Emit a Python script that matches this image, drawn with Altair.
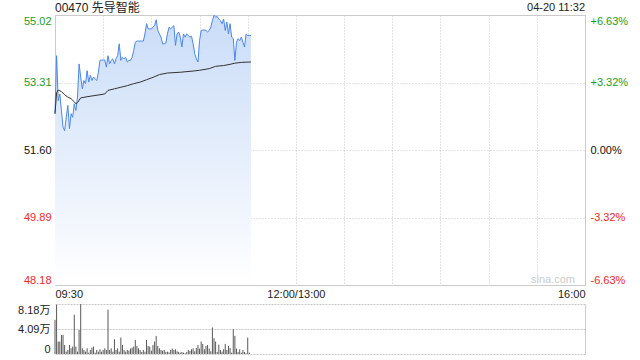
import altair as alt
import pandas as pd

title_text = "00470 先导智能"
stamp_text = "04-20 11:32"
watermark = "sina.com"

prev_close = 51.60
price_ticks = [48.18, 49.89, 51.60, 53.31, 55.02]
pct_labels = ["-6.63%", "-3.32%", "0.00%", "+3.32%", "+6.63%"]
time_ticks = [0, 30, 60, 90, 120, 150, 180, 210, 240, 270, 300, 330]
time_labels = {0: "09:30", 150: "12:00/13:00", 330: "16:00"}
vol_ticks = [0, 4.09, 8.18]
vol_labels = ["0", "4.09万", "8.18万"]

price = [
    52.52, 53.99, 52.85, 53.02, 52.60, 52.18, 52.09, 52.43, 52.73, 52.14,
    52.52, 52.43, 52.77, 52.60, 52.94, 53.78, 53.45, 53.15, 53.36, 53.28,
    53.61, 53.32, 53.49, 53.36, 53.45, 53.40, 53.36, 53.57, 53.87, 53.88,
    53.88, 53.88, 53.70, 53.99, 53.78, 53.87, 53.91, 53.78, 53.91, 53.99,
    54.29, 53.87, 53.95, 53.91, 53.95, 53.83, 53.87, 53.87, 53.95, 54.12,
    54.33, 54.36, 54.36, 54.36, 54.36, 54.36, 54.54, 54.80, 54.67, 54.67,
    54.67, 54.71, 54.75, 54.90, 54.63, 54.54, 54.46, 54.29, 54.29, 54.31,
    54.54, 54.71, 54.67, 54.71, 54.75, 54.25, 54.54, 54.59, 54.46, 54.21,
    54.54, 54.46, 54.54, 54.50, 54.46, 54.48, 54.29, 54.04, 53.91, 53.83,
    54.37, 54.63, 54.64, 54.64, 54.63, 54.59, 54.63, 54.71, 54.88, 55.01,
    54.97, 54.98, 54.92, 54.88, 54.80, 54.92, 54.63, 54.84, 54.54, 54.80,
    54.46, 54.42, 53.87, 54.33, 54.42, 54.37, 54.46, 54.33, 54.21, 54.54,
    54.50, 54.50, 54.50,
]

avg_minute = [0, 1, 2, 4, 6, 8, 10, 12, 13, 14, 16, 20, 28, 31, 33, 37, 41, 45,
              49, 53, 57, 61, 65, 70, 78, 86, 90, 96, 100, 105, 109, 112, 116, 122]
avg_price = [52.52, 53.05, 53.12, 53.08, 53.00, 52.94, 52.90, 52.82, 52.77, 52.80,
             52.92, 52.95, 53.00, 53.02, 53.11, 53.15, 53.19, 53.23, 53.28, 53.32,
             53.38, 53.44, 53.51, 53.55, 53.57, 53.60, 53.62, 53.66, 53.72, 53.74,
             53.77, 53.80, 53.82, 53.83]

volume = [  # 万股
    5.60, 8.07, 2.03, 2.03, 3.13, 3.13, 1.48, 0.38, 0.66, 1.48,
    0.93, 1.21, 6.42, 1.21, 0.38, 3.95, 8.18, 0.93, 0.66, 0.38,
    0.93, 0.22, 0.66, 1.04, 1.21, 0.22, 0.66, 0.38, 0.77, 0.38,
    0.66, 0.93, 0.66, 7.25, 0.66, 0.93, 0.38, 2.42, 0.66, 0.93,
    0.38, 2.69, 1.48, 0.66, 0.38, 0.66, 0.55, 0.88, 1.04, 1.21,
    2.31, 1.32, 0.93, 0.66, 0.33, 0.66, 0.38, 2.31, 1.32, 1.21,
    0.55, 1.48, 2.03, 2.96, 1.32, 0.93, 0.66, 0.55, 0.66, 0.33,
    0.38, 0.27, 0.66, 0.88, 0.66, 0.77, 0.44, 0.33, 0.22, 0.33,
    0.22, 0.11, 0.33, 0.66, 0.49, 0.77, 0.93, 0.44, 0.99, 1.48,
    0.88, 2.03, 1.65, 0.77, 1.32, 1.48, 0.88, 0.44, 4.34, 2.58,
    2.03, 0.33, 1.54, 0.66, 0.38, 0.77, 1.65, 0.66, 1.32, 0.99,
    0.22, 4.06, 2.96, 0.88, 0.33, 0.77, 0.22, 0.66, 0.33, 0.11,
    2.69, 0.22,
]

FONT = "Arial, Liberation Sans, Noto Sans CJK SC, sans-serif"
GREEN = "#1a9e1a"
RED = "#f02828"
GRID = "#c8c8c8"
BORDER = "#cccccc"
LINE = "#4a87ea"

price_df = pd.DataFrame({"minute": list(range(len(price))), "price": price})
avg_df = pd.DataFrame({"minute": avg_minute, "avg": avg_price})
vol_df = pd.DataFrame({"minute": list(range(len(volume))), "vol": volume})

color_expr = (f"datum.value > {prev_close + 0.001} ? '{GREEN}' : "
              f"datum.value < {prev_close - 0.001} ? '{RED}' : '#111111'")
pct_expr = " : ".join(
    f"abs(datum.value - {v}) < 0.005 ? '{l}'" for v, l in zip(price_ticks, pct_labels)
) + " : ''"
time_expr = " : ".join(f"datum.value == {k} ? '{v}'" for k, v in time_labels.items()) + " : ''"
vol_expr = " : ".join(
    f"abs(datum.value - {v}) < 0.005 ? '{l}'" for v, l in zip(vol_ticks, vol_labels)
) + " : ''"

x_scale = alt.Scale(domain=[time_ticks[0], time_ticks[-1]], nice=False)
y_scale = alt.Scale(domain=[price_ticks[0], price_ticks[-1]], nice=False, zero=False)

x_axis = alt.Axis(values=time_ticks, labelExpr=time_expr, grid=True, gridDash=[1, 2],
                  gridColor=GRID, ticks=False, domain=False, labelFlush=True,
                  labelPadding=3, labelFontSize=11, labelColor="#222222", title=None,
                  labelFont=FONT, minExtent=14, maxExtent=14)
y_left = alt.Axis(values=price_ticks, format=".2f", orient="left", grid=True,
                  gridDash=[1, 2], gridColor=GRID, ticks=False, domain=False,
                  labelFlush=True, labelPadding=4, labelFontSize=11, labelFont=FONT,
                  labelColor={"expr": color_expr}, title=None, minExtent=50, maxExtent=50)
y_right = alt.Axis(values=price_ticks, labelExpr=pct_expr, orient="right", grid=False,
                   ticks=False, domain=False, labelFlush=True, labelPadding=5,
                   labelFontSize=11, labelFont=FONT, labelColor={"expr": color_expr},
                   title=None)

x_enc = alt.X("minute:Q", scale=x_scale, axis=x_axis)

area = alt.Chart(price_df).mark_area(
    color=alt.Gradient(gradient="linear",
                       stops=[alt.GradientStop(color="#ffffff", offset=0),
                              alt.GradientStop(color="#c9dcf8", offset=1)],
                       x1=1, x2=1, y1=1, y2=0),
).encode(x=x_enc, y=alt.Y("price:Q", scale=y_scale, axis=y_left),
         y2=alt.datum(price_ticks[0]))

line = alt.Chart(price_df).mark_line(color=LINE, strokeWidth=1).encode(
    x=x_enc, y=alt.Y("price:Q", scale=y_scale, axis=y_right))

avg = alt.Chart(avg_df).mark_line(color="#333333", strokeWidth=1).encode(
    x=x_enc, y=alt.Y("avg:Q", scale=y_scale, axis=None))

title_mark = alt.Chart(pd.DataFrame({"t": [title_text]})).mark_text(
    align="left", baseline="middle", fontSize=12, font=FONT, color="#222222"
).encode(x=alt.value(0), y=alt.value(-7.5), text="t:N")

stamp_mark = alt.Chart(pd.DataFrame({"t": [stamp_text]})).mark_text(
    align="right", baseline="middle", fontSize=11, font=FONT, color="#222222"
).encode(x=alt.value(530), y=alt.value(-7.5), text="t:N")

wm_mark = alt.Chart(pd.DataFrame({"t": [watermark]})).mark_text(
    align="center", baseline="middle", fontSize=11, font=FONT, color="#cccccc"
).encode(x=alt.value(498), y=alt.value(265), text="t:N")

price_panel = alt.layer(area, line, avg, title_mark, stamp_mark, wm_mark).resolve_axis(
    y="independent").properties(width=530, height=270,
                                view=alt.ViewBackground(stroke=BORDER))

vx = alt.X("minute:Q", scale=x_scale, axis=None)
vy_scale = alt.Scale(domain=[vol_ticks[0], vol_ticks[-1]], nice=False)
vol_left = alt.Axis(values=vol_ticks, labelExpr=vol_expr, orient="left", grid=True,
                    gridDash=[2, 1], gridColor=GRID, ticks=False, domain=False,
                    labelFlush=True, labelPadding=5, labelFontSize=11, labelFont=FONT,
                    labelColor="#222222", title=None, minExtent=50, maxExtent=50)
vol_right = alt.Axis(orient="right", grid=False, ticks=False, labels=False, domain=True,
                     domainColor=BORDER, title=None)

bars = alt.Chart(vol_df).mark_rule(color="#595959", strokeWidth=1).encode(
    x=vx, y=alt.Y("vol:Q", scale=vy_scale, axis=vol_left), y2=alt.datum(vol_ticks[0]))
border = alt.Chart(vol_df).mark_rule(opacity=0).encode(
    x=vx, y=alt.Y("vol:Q", scale=vy_scale, axis=vol_right))

vol_panel = alt.layer(bars, border).resolve_axis(y="independent").properties(
    width=530, height=50, view=alt.ViewBackground(stroke="transparent"))

chart = alt.vconcat(price_panel, vol_panel, spacing=3).properties(
    padding={"left": 4, "top": 1, "right": 0, "bottom": 0},
    background="#ffffff",
)

chart.save("out.html", embed_options={"renderer": "svg", "actions": False})
